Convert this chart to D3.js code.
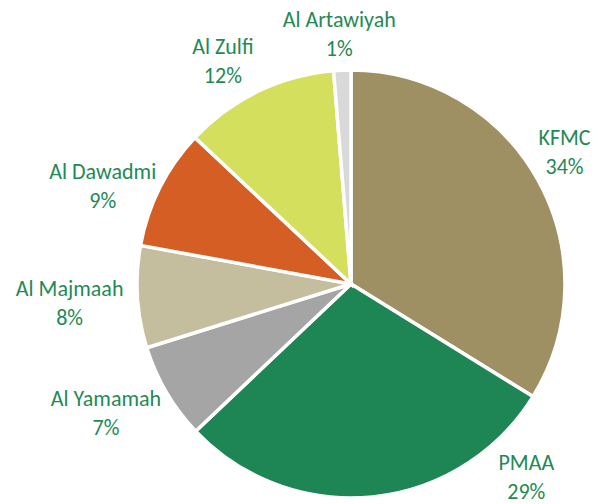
<!DOCTYPE html>
<meta charset="utf-8">
<style>
body { margin: 0; background: #fff; }
.label {
  font: 22px Carlito, Calibri, Lato, sans-serif;
  fill: #1f8a55;
  text-anchor: middle;
}
.slice { stroke: #fff; stroke-width: 3.5px; }
</style>
<svg width="598" height="504"></svg>
<script src="https://d3js.org/d3.v7.min.js"></script>
<script>

// shares (labels show the rounded percent)
var names = ["KFMC", "PMAA", "Al Yamamah", "Al Majmaah", "Al Dawadmi", "Al Zulfi", "Al Artawiyah"];
var shares = [33.8, 29.1, 7.25, 7.7, 9.1, 11.7, 1.3];
var colors = ["#9e9062", "#1e8554", "#a5a5a5", "#c4bd9e", "#d55e24", "#d4df5e", "#d9d9d9"];

// where each label block sits: angle (deg, clockwise from top) and distance from centre
var labelAngle = [58.3, 137.8, 242.2, 266.1, 291.6, 330.1, 357.3];
var labelDist = [251, 261, 277, 282, 267, 257, 250];

var svg = d3.select("svg"),
    cx = 351, cy = 284, radius = 214;

var g = svg.append("g").attr("transform", "translate(" + cx + "," + cy + ")");

var total = d3.sum(shares);
var data = names.map(function(n, i) { return { name: n, value: shares[i], i: i }; });

var pie = d3.pie().sort(null).value(function(d) { return d.value; });
var arc = d3.arc().innerRadius(0).outerRadius(radius);

var arcs = pie(data);

g.selectAll("path")
  .data(arcs)
  .enter().append("path")
    .attr("class", "slice")
    .attr("fill", function(d) { return colors[d.data.i]; })
    .attr("d", arc);

var label = g.selectAll("text")
  .data(arcs)
  .enter().append("text")
    .attr("class", "label")
    .attr("transform", function(d) {
      var a = labelAngle[d.data.i] * Math.PI / 180, r = labelDist[d.data.i];
      return "translate(" + (Math.sin(a) * r) + "," + (-Math.cos(a) * r) + ")";
    });

label.append("tspan")
    .attr("x", 0)
    .attr("y", -7)
    .text(function(d) { return d.data.name; });

label.append("tspan")
    .attr("x", 0)
    .attr("y", 22)
    .text(function(d) { return Math.round(d.data.value / total * 100) + "%"; });

</script>
